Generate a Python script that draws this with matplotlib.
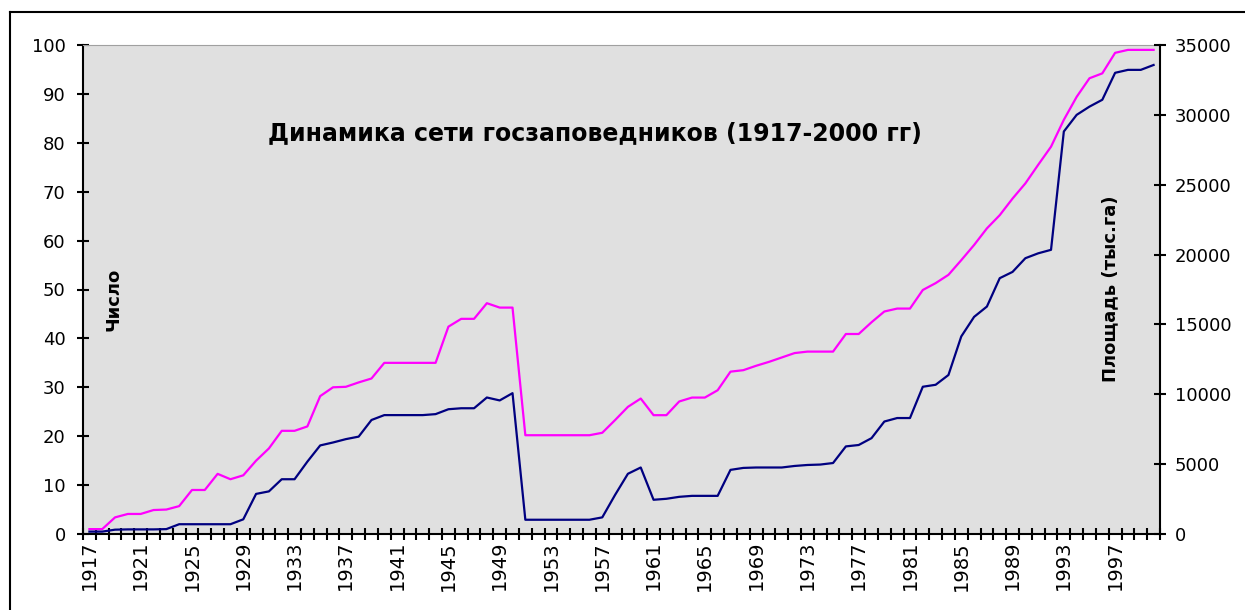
import matplotlib.pyplot as plt
import numpy as np
from matplotlib.lines import Line2D

years = list(range(1917, 2001))

# число заповедников (левая ось)
number = [1, 1, 3.4, 4.1, 4.1, 4.9, 5, 5.7, 9, 9,
          12.3, 11.2, 12, 15, 17.5, 21.1, 21.1, 22, 28.2, 30,
          30.1, 31, 31.8, 35, 35, 35, 35, 35, 42.4, 44,
          44, 47.2, 46.3, 46.3, 20.2, 20.2, 20.2, 20.2, 20.2, 20.2,
          20.7, 23.3, 26, 27.7, 24.3, 24.3, 27.1, 27.9, 27.9, 29.4,
          33.2, 33.5, 34.4, 35.2, 36.1, 37, 37.3, 37.3, 37.3, 40.9,
          40.9, 43.3, 45.5, 46.1, 46.1, 49.9, 51.3, 53, 56, 59.1,
          62.5, 65.2, 68.6, 71.7, 75.5, 79.2, 84.7, 89.4, 93.2, 94.2,
          98.4, 99, 99, 99]

# площадь, тыс. га (правая ось)
area = [170, 170, 310, 330, 330, 330, 350, 700, 700, 700,
        700, 700, 1050, 2870, 3050, 3920, 3920, 5180, 6340, 6550,
        6790, 6970, 8160, 8510, 8510, 8510, 8510, 8580, 8930, 9000,
        9000, 9770, 9560, 10080, 1020, 1020, 1020, 1020, 1020, 1020,
        1190, 2800, 4310, 4760, 2450, 2520, 2660, 2730, 2730, 2730,
        4590, 4730, 4760, 4760, 4760, 4870, 4940, 4970, 5080, 6270,
        6370, 6860, 8050, 8300, 8300, 10540, 10680, 11380, 14140, 15540,
        16280, 18310, 18760, 19740, 20090, 20340, 28810, 30000, 30590, 31080,
        33010, 33220, 33220, 33570]

label_years = years[::4]

fig = plt.figure(figsize=(12.45, 6.1), dpi=100)
ax = fig.add_axes([83 / 1245, 1 - 534 / 610, 1077 / 1245, 489 / 610])
ax2 = ax.twinx()

x = np.arange(len(years))
ax.plot(x, number, color='#FF00FF', lw=1.6)
ax2.plot(x, area, color='#000080', lw=1.6)

ax.set_facecolor('#E0E0E0')
ax.set_xlim(-0.5, len(years) - 0.5)
ax.set_ylim(0, 100)
ax2.set_ylim(0, 35000)
ax.set_yticks(range(0, 101, 10))
ax2.set_yticks(range(0, 35001, 5000))

# деления по границам категорий, подписи каждые 4 года
ax.set_xticks(np.arange(-0.5, len(years), 1))
ax.set_xticklabels([])
ax.set_xticks([years.index(y) for y in label_years], minor=True)
ax.set_xticklabels([str(y) for y in label_years], minor=True, rotation=90)
ax.tick_params(axis='x', which='major', direction='inout', length=9, width=1.5)
ax.tick_params(axis='x', which='minor', length=0, pad=5, labelsize=14)
ax.tick_params(axis='y', direction='inout', length=9, width=1.5, pad=8, labelsize=13)
ax2.tick_params(axis='y', direction='inout', length=9, width=1.5, pad=6, labelsize=13)

for s in ['left', 'bottom']:
    ax.spines[s].set_linewidth(1.5)
ax.spines['top'].set_color('#A0A0A0')
ax.spines['right'].set_visible(False)
ax2.spines['right'].set_linewidth(1.5)
for s in ['left', 'top', 'bottom']:
    ax2.spines[s].set_visible(False)

fig.text(595 / 1245, 1 - 133 / 610, 'Динамика сети госзаповедников (1917-2000 гг)',
         ha='center', va='center', fontsize=17, fontweight='bold')
fig.text(114 / 1245, 1 - 299 / 610, 'Число', rotation=90,
         ha='center', va='center', fontsize=13, fontweight='bold')
fig.text(1110 / 1245, 1 - 289 / 610, 'Площадь (тыс.га)', rotation=90,
         ha='center', va='center', fontsize=13, fontweight='bold')

# рамка области диаграммы
fig.add_artist(Line2D([10 / 1245, 1], [1 - 12 / 610, 1 - 12 / 610], color='black', lw=1.5))
fig.add_artist(Line2D([10 / 1245, 10 / 1245], [0, 1 - 12 / 610], color='black', lw=1.5))

fig.savefig('out.png', dpi=100)
